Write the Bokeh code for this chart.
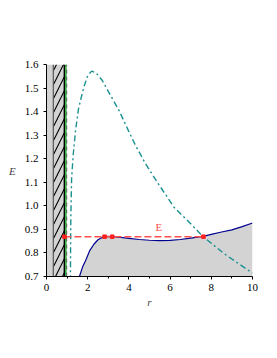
from bokeh.plotting import figure
from bokeh.embed import file_html
from bokeh.resources import INLINE
from bokeh.models import FixedTicker, Range1d, Label

# Effective potential (blue) r, E
r_v = [1.6, 1.75, 1.9, 2.1, 2.3, 2.5, 2.7, 2.9, 3.2, 3.6, 4.0, 4.5, 5.0, 5.5, 6.0,
       6.5, 7.0, 7.6, 8.0, 8.5, 9.0, 9.5, 10.0]
E_v = [0.70, 0.74, 0.768, 0.81, 0.837, 0.856, 0.866, 0.870, 0.869, 0.866, 0.862,
       0.857, 0.854, 0.852, 0.853, 0.857, 0.863, 0.870, 0.879, 0.889, 0.898, 0.912, 0.927]

# Teal dash-dot curve
r_t = [1.16, 1.18, 1.22, 1.3, 1.41, 1.55, 1.65, 1.8, 2.0, 2.19, 2.4, 2.71, 3.1, 3.52,
       4.0, 4.33, 4.8, 5.38, 6.19, 7.0, 7.57, 8.62, 9.92, 10.0]
E_t = [0.68, 0.95, 1.12, 1.22, 1.32, 1.41, 1.447, 1.50, 1.553, 1.572, 1.565, 1.532,
       1.47, 1.405, 1.315, 1.255, 1.18, 1.10, 0.994, 0.924, 0.872, 0.797, 0.719, 0.714]

# Energy level and turning points
E_level = 0.869
r_line = [0.87, 7.62]
r_pts = [0.87, 2.82, 3.19, 7.62]

# Vertical markers
r_strip = 0.33
r_black = 0.87
r_green = 0.94
r_dash = 0.98

x_ticks = [0, 2, 4, 6, 8, 10]
x_minor = [1, 3, 5, 7, 9]
y_ticks = [0.7, 0.8, 0.9, 1.0, 1.1, 1.2, 1.3, 1.4, 1.5, 1.6]
y_labels = ["0.7", "0.8", "0.9", "1.0", "1.1", "1.2", "1.3", "1.4", "1.5", "1.6"]

FONT = "Liberation Serif, Times New Roman, serif"

p = figure(width=269, height=348, output_backend="svg", toolbar_location=None,
           x_range=Range1d(0, 10), y_range=Range1d(0.7, 1.6),
           min_border_left=46, min_border_right=17, min_border_top=64, min_border_bottom=72)
p.outline_line_color = None
p.grid.visible = False
p.background_fill_color = "white"

gray = "#d3d3d3"
# left strip
p.quad(left=0, right=r_strip, bottom=0.7, top=1.6, fill_color=gray, line_color=None)
# hatched region
p.quad(left=r_strip, right=r_black, bottom=0.7, top=1.6, fill_color=gray, line_color=None,
       hatch_pattern="/", hatch_color="black", hatch_scale=14, hatch_weight=1.1)
p.segment(x0=r_strip, y0=0.7, x1=r_strip, y1=1.6, line_color="#555555", line_width=1.2)

# fill below blue curve
p.varea(x=r_v, y1=[0.7] * len(r_v), y2=E_v, fill_color=gray)

p.segment(x0=r_black, y0=0.7, x1=r_black, y1=1.6, line_color="black", line_width=1.6)
p.segment(x0=r_green, y0=0.7, x1=r_green, y1=1.6, line_color="#33b040", line_width=1.6)
p.segment(x0=r_dash, y0=0.7, x1=r_dash, y1=1.6, line_color="#556655", line_width=1, line_dash="4 3")

p.line(r_t, E_t, line_color="#1a9090", line_width=1.4, line_dash="6 3 2 3")
p.line(r_v, E_v, line_color="#000090", line_width=1.2)

p.line(r_line, [E_level] * 2, line_color="#ff5050", line_width=1.6, line_dash="7 3")
p.scatter(r_pts, [E_level] * len(r_pts), size=3.5, marker="square", color="#ff2020")

p.add_layout(Label(x=5.46, y=0.885, text="E", text_color="#ff5050", text_font=FONT,
                   text_font_size="11px", text_align="center"))

for ax in (p.xaxis[0], p.yaxis[0]):
    ax.major_label_text_font = FONT
    ax.major_label_text_font_size = "11px"
    ax.major_label_text_color = "black"
    ax.axis_label_text_font = FONT
    ax.axis_label_text_font_style = "italic"
    ax.axis_label_text_font_size = "11px"
    ax.axis_line_color = "black"
    ax.major_tick_line_color = "black"
    ax.minor_tick_line_color = "black"
    ax.major_tick_out = 3
    ax.major_tick_in = 0
    ax.minor_tick_out = 2
    ax.minor_tick_in = 0

p.xaxis[0].ticker = FixedTicker(ticks=x_ticks, minor_ticks=x_minor)
p.yaxis[0].ticker = FixedTicker(ticks=y_ticks, minor_ticks=[])
p.yaxis[0].major_label_overrides = {t: s for t, s in zip(y_ticks, y_labels)}
p.xaxis[0].axis_label = "r"
p.yaxis[0].axis_label = "E"
p.yaxis[0].axis_label_orientation = "horizontal"
p.xaxis[0].major_label_standoff = 4
p.xaxis[0].axis_label_standoff = 2
p.yaxis[0].axis_label_standoff = 6

open("out.html", "w").write(file_html(p, INLINE))
